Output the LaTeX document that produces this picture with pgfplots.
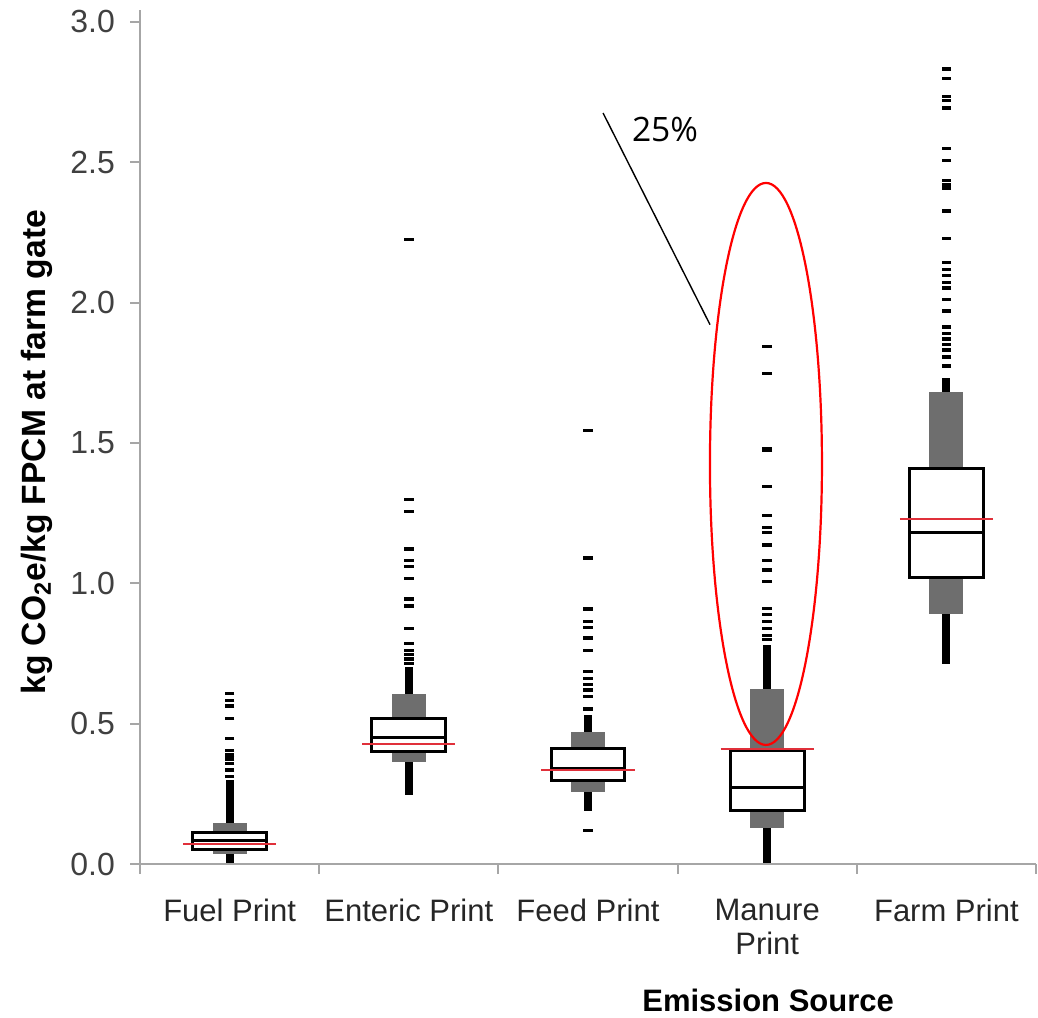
\documentclass[border=0pt]{standalone}
\usepackage{fontspec}
\setmainfont{Liberation Sans}
\newfontfamily\annofont{Open Sans}
\usepackage{pgfplots}
\pgfplotsset{compat=1.18}
\usetikzlibrary{shapes.geometric}

\definecolor{whisk}{HTML}{6E6E6E}
\definecolor{meanred}{HTML}{E0303A}
\definecolor{axgray}{HTML}{A6A6A6}
\definecolor{lbl}{HTML}{404040}

\pgfplotsset{
  outl/.style={only marks, mark=-, mark size=2.4pt, black, mark options={line width=1.6pt}},
  dense/.style={black, line width=4pt},
  gbar/.style={fill=whisk, draw=none},
  qbox/.style={fill=white, draw=black, line width=1.5pt},
  med/.style={black, line width=1.5pt},
  avg/.style={meanred, line width=1pt},
}

\begin{document}
\begin{tikzpicture}
\useasboundingbox (0,0) rectangle (519pt,508.5pt);
\begin{axis}[
    at={(70pt,76.5pt)}, anchor=south west,
    scale only axis, width=448pt, height=427pt,
    xmin=-0.5, xmax=4.5, ymin=0, ymax=3.042,
    axis lines=left,
    axis line style={axgray, line width=1pt, -},
    tick style={axgray, line width=1pt},
    major tick length=5pt, tick align=outside,
    xtick={-0.5,0.5,1.5,2.5,3.5,4.5}, xticklabels={},
    extra x ticks={0,1,2,3,4},
    extra x tick labels={Fuel Print, Enteric Print, Feed Print, {Manure\\Print}, Farm Print},
    extra x tick style={major tick length=0pt,
        tick label style={align=center, font=\fontsize{15.5}{17}\selectfont, text=black!85, yshift=-14pt}},
    ytick={0,0.5,1,1.5,2,2.5,3},
    yticklabel style={/pgf/number format/fixed, /pgf/number format/fixed zerofill,
        /pgf/number format/precision=1, /pgf/number format/assume math mode=true,
        font=\fontsize{16}{19}\selectfont, text=lbl, xshift=-4pt},
    ylabel={kg CO\textsubscript{2}e/kg FPCM at farm gate},
    ylabel style={at={(axis description cs:-0.115,0.482)}, anchor=center,
        font=\bfseries\fontsize{16.8}{19}\selectfont},
    xlabel={Emission Source},
    xlabel style={at={(axis description cs:0.701,0)}, anchor=center, yshift=-68pt,
        font=\bfseries\fontsize{15.5}{18}\selectfont},
]
% Fuel Print
\addplot[dense] coordinates {(0,0.005) (0,0.04)};
\addplot[dense] coordinates {(0,0.14) (0,0.30)};
\addplot[outl] coordinates {(0,0.311) (0,0.335) (0,0.359) (0,0.374) (0,0.388) (0,0.404) (0,0.448) (0,0.517) (0,0.563) (0,0.582) (0,0.606)};
\addplot[gbar] coordinates {(-0.095,0.036) (0.095,0.036) (0.095,0.145) (-0.095,0.145)} -- cycle;
\addplot[qbox] coordinates {(-0.206,0.052) (0.206,0.052) (0.206,0.111) (-0.206,0.111)} -- cycle;
\addplot[med] coordinates {(-0.206,0.085) (0.206,0.085)};
\addplot[avg] coordinates {(-0.26,0.070) (0.26,0.070)};

% Enteric Print
\addplot[dense] coordinates {(1,0.246) (1,0.37)};
\addplot[dense] coordinates {(1,0.60) (1,0.70)};
\addplot[outl] coordinates {(1,0.715) (1,0.73) (1,0.745) (1,0.76) (1,0.786) (1,0.84) (1,0.919) (1,0.944) (1,1.017) (1,1.06) (1,1.08) (1,1.122) (1,1.256) (1,1.297) (1,2.224)};
\addplot[gbar] coordinates {(0.905,0.365) (1.095,0.365) (1.095,0.605) (0.905,0.605)} -- cycle;
\addplot[qbox] coordinates {(0.794,0.40) (1.206,0.40) (1.206,0.52) (0.794,0.52)} -- cycle;
\addplot[med] coordinates {(0.794,0.45) (1.206,0.45)};
\addplot[avg] coordinates {(0.74,0.428) (1.26,0.428)};

% Feed Print
\addplot[dense] coordinates {(2,0.19) (2,0.26)};
\addplot[dense] coordinates {(2,0.47) (2,0.53)};
\addplot[outl] coordinates {(2,0.12) (2,0.552) (2,0.598) (2,0.62) (2,0.64) (2,0.66) (2,0.685) (2,0.76) (2,0.805) (2,0.842) (2,0.863) (2,0.908) (2,1.087) (2,1.092) (2,1.544)};
\addplot[gbar] coordinates {(1.905,0.258) (2.095,0.258) (2.095,0.471) (1.905,0.471)} -- cycle;
\addplot[qbox] coordinates {(1.794,0.296) (2.206,0.296) (2.206,0.41) (1.794,0.41)} -- cycle;
\addplot[med] coordinates {(1.794,0.34) (2.206,0.34)};
\addplot[avg] coordinates {(1.74,0.336) (2.26,0.336)};

% Manure Print
\addplot[dense] coordinates {(3,0.005) (3,0.13)};
\addplot[dense] coordinates {(3,0.62) (3,0.78)};
\addplot[outl] coordinates {(3,0.80) (3,0.815) (3,0.84) (3,0.865) (3,0.89) (3,0.91) (3,1.005) (3,1.047) (3,1.08) (3,1.136) (3,1.18) (3,1.2) (3,1.24) (3,1.344) (3,1.475) (3,1.48) (3,1.746) (3,1.842)};
\addplot[gbar] coordinates {(2.905,0.128) (3.095,0.128) (3.095,0.625) (2.905,0.625)} -- cycle;
\addplot[qbox] coordinates {(2.794,0.19) (3.206,0.19) (3.206,0.406) (2.794,0.406)} -- cycle;
\addplot[med] coordinates {(2.794,0.271) (3.206,0.271)};
\addplot[avg] coordinates {(2.74,0.41) (3.26,0.41)};

% Farm Print
\addplot[dense] coordinates {(4,0.714) (4,0.89)};
\addplot[dense] coordinates {(4,1.68) (4,1.73)};
\addplot[outl] coordinates {(4,1.774) (4,1.806) (4,1.831) (4,1.85) (4,1.87) (4,1.89) (4,1.913) (4,1.97) (4,2.011) (4,2.052) (4,2.07) (4,2.096) (4,2.118) (4,2.142) (4,2.228) (4,2.326) (4,2.408) (4,2.42) (4,2.435) (4,2.507) (4,2.549) (4,2.693) (4,2.72) (4,2.733) (4,2.799) (4,2.832)};
\addplot[gbar] coordinates {(3.905,0.89) (4.095,0.89) (4.095,1.68) (3.905,1.68)} -- cycle;
\addplot[qbox] coordinates {(3.794,1.019) (4.206,1.019) (4.206,1.407) (3.794,1.407)} -- cycle;
\addplot[med] coordinates {(3.794,1.18) (4.206,1.18)};
\addplot[avg] coordinates {(3.74,1.228) (4.26,1.228)};

% annotation
\node[draw=red, line width=1.1pt, ellipse, minimum width=56pt, minimum height=281pt, inner sep=0pt] at (axis cs:2.993,1.425) {};
\draw[black, line width=0.7pt] (axis cs:2.084,2.675) -- (axis cs:2.681,1.921);
\node[font=\annofont\fontsize{16.8}{20}\selectfont] at (axis cs:2.43,2.615) {25\%};
\end{axis}
\end{tikzpicture}
\end{document}
